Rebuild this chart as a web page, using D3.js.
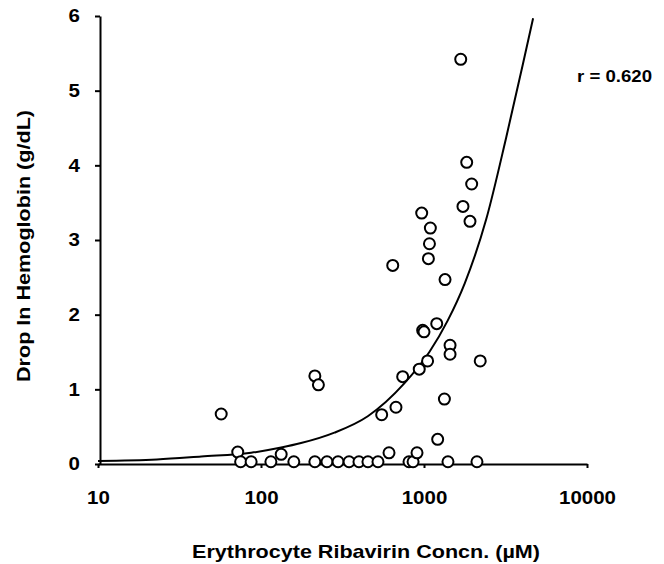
<!DOCTYPE html>
<html>
<head>
<meta charset="utf-8">
<script src="https://cdn.jsdelivr.net/npm/d3@7"></script>
<style>
  body { margin: 0; background: #fff; }
  svg { display: block; font-family: "Liberation Sans", Arial, sans-serif; }
  .axis text { font-size: 18px; font-weight: bold; fill: #000; }
  .axis path, .axis line { stroke: #000; stroke-width: 2; }
</style>
</head>
<body>
<svg id="chart" width="664" height="564"></svg>
<script>
// ribavirin concentration (uM) and drop in hemoglobin (g/dL)
const concn = [57, 214, 225, 72, 75, 87, 115, 133, 159, 214, 254, 297, 347, 399, 453, 522,
  610, 809, 857, 906, 1403, 2113,
  550, 673, 740, 935, 1052, 1213, 1334, 1445, 1445, 2213, 981, 1000, 1197, 1346,
  643, 1064, 1080, 1094, 968, 1734, 1915, 1961, 1828, 1680];
const drop = [0.67, 1.18, 1.06, 0.16, 0.03, 0.03, 0.03, 0.13, 0.03, 0.03, 0.03, 0.03, 0.03, 0.03, 0.03, 0.03,
  0.15, 0.03, 0.03, 0.15, 0.03, 0.03,
  0.66, 0.76, 1.17, 1.27, 1.38, 0.33, 0.87, 1.59, 1.47, 1.38, 1.79, 1.77, 1.88, 2.47,
  2.66, 2.75, 2.95, 3.16, 3.36, 3.45, 3.25, 3.75, 4.04, 5.42];

// regression curve
const fitConcn = [10, 23, 43, 87, 133, 176, 282, 452, 757, 1079, 1397, 1778, 2410, 3199, 4048, 4670];
const fitDrop = [0.04, 0.06, 0.10, 0.15, 0.22, 0.28, 0.42, 0.64, 1.08, 1.50, 1.92, 2.42, 3.28, 4.38, 5.36, 5.97];

const xTicks = [10, 100, 1000, 10000];
const yTicks = [0, 1, 2, 3, 4, 5, 6];

const svg = d3.select('#chart');

const xScale = d3.scaleLog().domain([10, 10000]).range([98, 587]);
const yScale = d3.scaleLinear().domain([0, 6]).range([464, 16]);

const xAxis = d3.axisBottom(xScale)
  .tickValues(xTicks)
  .tickFormat(d3.format('d'))
  .tickSize(4)
  .tickSizeOuter(0)
  .tickPadding(23);

const yAxis = d3.axisLeft(yScale)
  .tickValues(yTicks)
  .tickFormat(d3.format('d'))
  .tickSize(5)
  .tickSizeOuter(0)
  .tickPadding(15);

// scanned labels are a bit wider than the font
const widen = sel => sel.selectAll('.tick text')
  .attr('textLength', function () { return this.textContent.length * 11.4; })
  .attr('lengthAdjust', 'spacingAndGlyphs');

svg.append('g')
  .attr('class', 'axis x-axis')
  .attr('transform', `translate(0,${464})`)
  .call(xAxis)
  .call(widen);

svg.append('g')
  .attr('class', 'axis y-axis')
  .attr('transform', `translate(${100},0)`)
  .call(yAxis)
  .call(widen);

// fitted curve
const lineGenerator = d3.line()
  .x(d => xScale(d[0]))
  .y(d => yScale(d[1]))
  .curve(d3.curveMonotoneX);

svg.append('path')
  .attr('d', lineGenerator(fitConcn.map((c, i) => [c, fitDrop[i]])))
  .attr('fill', 'none')
  .attr('stroke', '#000')
  .attr('stroke-width', 2);

// points
svg.selectAll('.pt')
  .data(concn.map((c, i) => ({ c, v: drop[i] })))
  .enter().append('circle')
  .attr('class', 'pt')
  .attr('cx', d => xScale(d.c))
  .attr('cy', d => yScale(d.v))
  .attr('r', 5.5)
  .attr('fill', '#fff')
  .attr('stroke', '#000')
  .attr('stroke-width', 2);

// labels
svg.append('text')
  .attr('x', 577)
  .attr('y', 82)
  .attr('font-size', 16)
  .attr('font-weight', 'bold')
  .attr('textLength', 75)
  .attr('lengthAdjust', 'spacingAndGlyphs')
  .text('r = 0.620');

svg.append('text')
  .attr('x', 366)
  .attr('y', 558)
  .attr('text-anchor', 'middle')
  .attr('font-size', 19)
  .attr('font-weight', 'bold')
  .attr('textLength', 348)
  .attr('lengthAdjust', 'spacingAndGlyphs')
  .text('Erythrocyte Ribavirin Concn. (µM)');

svg.append('text')
  .attr('transform', `translate(${30},${246}) rotate(270)`)
  .attr('text-anchor', 'middle')
  .attr('font-size', 19)
  .attr('font-weight', 'bold')
  .attr('textLength', 272)
  .attr('lengthAdjust', 'spacingAndGlyphs')
  .text('Drop In Hemoglobin (g/dL)');
</script>
</body>
</html>
